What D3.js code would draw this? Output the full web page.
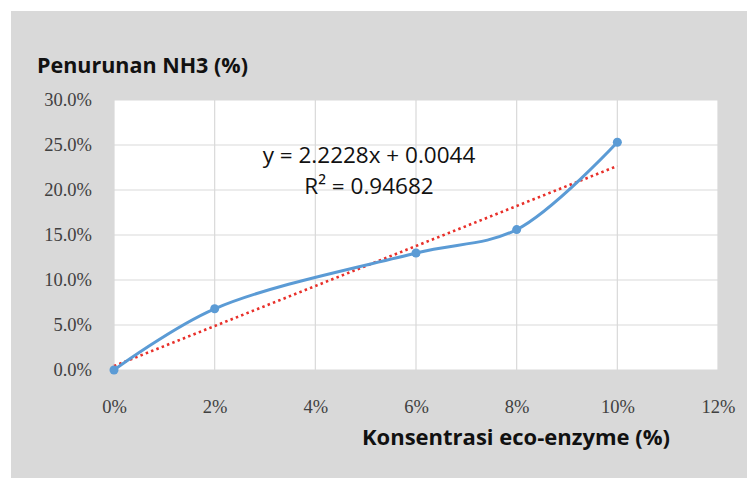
<!DOCTYPE html>
<html><head><meta charset="utf-8">
<script src="https://cdn.jsdelivr.net/npm/d3@7"></script>
<style>html,body{margin:0;padding:0;background:#fff;}</style>
</head><body>
<script>
const xValues = [0, 0.02, 0.06, 0.08, 0.10];
const yValues = [0.0, 0.068, 0.130, 0.156, 0.253];
const xTicks = [0, 0.02, 0.04, 0.06, 0.08, 0.10, 0.12];
const yTicks = [0, 0.05, 0.10, 0.15, 0.20, 0.25, 0.30];
const trendSlope = 2.2228;
const trendIntercept = 0.0044;
const trendRange = [0, 0.10];
const equationLines = ["y = 2.2228x + 0.0044", "R² = 0.94682"];
const yTitle = "Penurunan NH3 (%)";
const xTitle = "Konsentrasi eco-enzyme (%)";

const W = 747, H = 478;
const svg = d3.select("body").append("svg").attr("width", W).attr("height", H);
svg.append("rect").attr("x", 11).attr("y", 11).attr("width", W - 11).attr("height", H - 11).attr("fill", "#d9d9d9");

const x = d3.scaleLinear().domain([0, 0.12]).range([114, 718]);
const y = d3.scaleLinear().domain([0, 0.30]).range([370, 100]);

svg.append("rect").attr("x", x(0)).attr("y", y(0.30)).attr("width", x(0.12) - x(0)).attr("height", y(0) - y(0.30)).attr("fill", "#fff");

const g = svg.append("g");
g.selectAll("line.h").data(yTicks).enter().append("line")
  .attr("x1", x(0)).attr("x2", x(0.12)).attr("y1", d => y(d)).attr("y2", d => y(d))
  .attr("stroke", "#d9d9d9").attr("stroke-width", 1.2);
g.selectAll("line.v").data(xTicks).enter().append("line")
  .attr("y1", y(0)).attr("y2", y(0.30)).attr("x1", d => x(d)).attr("x2", d => x(d))
  .attr("stroke", "#d9d9d9").attr("stroke-width", 1.2);

const yAxis = d3.axisLeft(y).tickValues(yTicks).tickFormat(d3.format(".1%")).tickSize(0).tickPadding(22);
const ya = svg.append("g").attr("transform", `translate(${x(0)},0)`).call(yAxis);
const xAxis = d3.axisBottom(x).tickValues(xTicks).tickFormat(d3.format(".0%")).tickSize(0).tickPadding(30);
const xa = svg.append("g").attr("transform", `translate(0,${y(0)})`).call(xAxis);
[ya, xa].forEach(a => {
  a.select(".domain").remove();
  a.selectAll("text").attr("font-family", "'Liberation Serif', serif").attr("font-size", 18.5).attr("fill", "#404040");
});

// trendline
svg.append("line")
  .attr("x1", x(trendRange[0])).attr("y1", y(trendSlope * trendRange[0] + trendIntercept))
  .attr("x2", x(trendRange[1])).attr("y2", y(trendSlope * trendRange[1] + trendIntercept))
  .attr("stroke", "#e8302a").attr("stroke-width", 2.6).attr("stroke-dasharray", "2.5,3.2");

const pts = xValues.map((v, i) => [v, yValues[i]]);
const line = d3.line().x(d => x(d[0])).y(d => y(d[1])).curve(d3.curveCatmullRom.alpha(0.5));
svg.append("path").datum(pts).attr("d", line).attr("fill", "none").attr("stroke", "#5b9bd5").attr("stroke-width", 3);
svg.selectAll("circle.pt").data(pts).enter().append("circle")
  .attr("cx", d => x(d[0])).attr("cy", d => y(d[1])).attr("r", 4.5).attr("fill", "#5b9bd5");

// equation
svg.append("g").selectAll("text").data(equationLines).enter().append("text")
  .attr("x", 369).attr("y", (d, i) => 163 + i * 31).attr("text-anchor", "middle")
  .attr("font-family", "'Open Sans', sans-serif").attr("font-size", 22.5).attr("fill", "#111")
  .text(d => d);

svg.append("text").attr("x", 37).attr("y", 73)
  .attr("font-family", "'Open Sans', sans-serif").attr("font-weight", "bold").attr("font-size", 21.5).attr("fill", "#111")
  .text(yTitle);
svg.append("text").attr("x", 516).attr("y", 445).attr("text-anchor", "middle")
  .attr("font-family", "'Open Sans', sans-serif").attr("font-weight", "bold").attr("font-size", 22).attr("fill", "#111")
  .text(xTitle);
</script>
</body></html>
